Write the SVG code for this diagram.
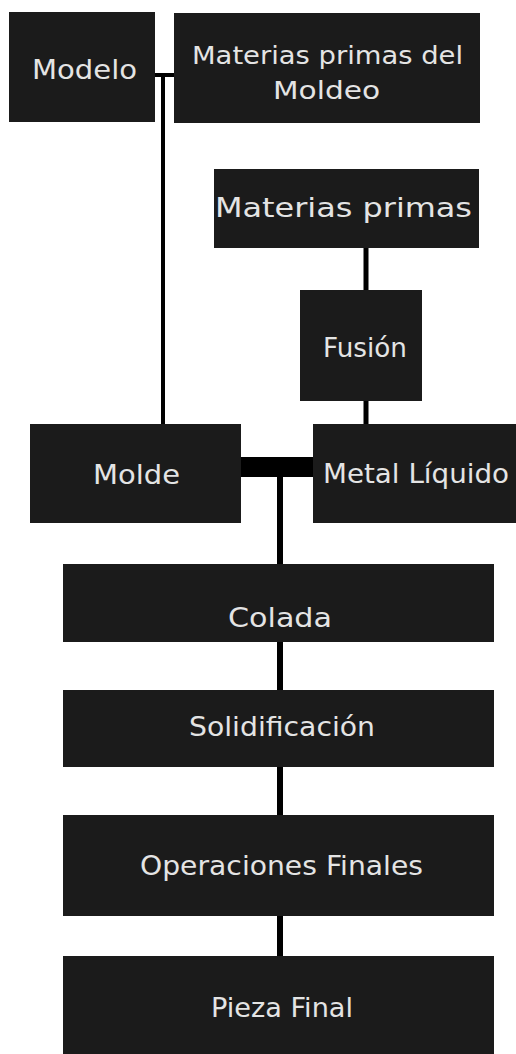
<svg xmlns="http://www.w3.org/2000/svg" width="516" height="1054" viewBox="0 0 516 1054">
  <style>
    .box { fill: #1b1b1b; }
    .lbl { fill: #e4e4e4; font-family: "DejaVu Sans", "Liberation Sans", sans-serif; font-size: 27px; }
    .sm { font-size: 24px; }
    .md { font-size: 26px; }
    .wire { fill: #000; }
  </style>
  <rect width="516" height="1054" fill="#fff"/>

  <!-- connectors -->
  <g id="connectors">
    <rect class="wire" x="155" y="73" width="19" height="4"/>
    <rect class="wire" x="161" y="73" width="4" height="351"/>
    <rect class="wire" x="363.5" y="248" width="5" height="42"/>
    <rect class="wire" x="363.5" y="401" width="5" height="23"/>
    <rect class="wire" x="241" y="457" width="72" height="20"/>
    <rect class="wire" x="277" y="477" width="6" height="87"/>
    <rect class="wire" x="277" y="642" width="6" height="48"/>
    <rect class="wire" x="277" y="767" width="6" height="48"/>
    <rect class="wire" x="277" y="916" width="6" height="40"/>
  </g>

  <g id="modelo">
    <rect class="box" x="9" y="12" width="146" height="110"/>
    <text class="lbl" x="32" y="79" textLength="105" lengthAdjust="spacingAndGlyphs">Modelo</text>
  </g>
  <g id="materias-moldeo">
    <rect class="box" x="174" y="13" width="306" height="110"/>
    <text class="lbl sm" x="192" y="64" textLength="271" lengthAdjust="spacingAndGlyphs">Materias primas del</text>
    <text class="lbl sm" x="273" y="99" textLength="107" lengthAdjust="spacingAndGlyphs">Moldeo</text>
  </g>
  <g id="materias-primas">
    <rect class="box" x="214" y="169" width="265" height="79"/>
    <text class="lbl md" x="215" y="217" textLength="257" lengthAdjust="spacingAndGlyphs">Materias primas</text>
  </g>
  <g id="fusion">
    <rect class="box" x="300" y="290" width="122" height="111"/>
    <text class="lbl" x="323" y="357" textLength="84" lengthAdjust="spacingAndGlyphs">Fusión</text>
  </g>
  <g id="molde">
    <rect class="box" x="30" y="424" width="211" height="99"/>
    <text class="lbl" x="93" y="484" textLength="87" lengthAdjust="spacingAndGlyphs">Molde</text>
  </g>
  <g id="metal-liquido">
    <rect class="box" x="313" y="424" width="203" height="99"/>
    <text class="lbl" x="323" y="483" textLength="186" lengthAdjust="spacingAndGlyphs">Metal Líquido</text>
  </g>
  <g id="colada">
    <rect class="box" x="63" y="564" width="431" height="78"/>
    <text class="lbl" x="228" y="627" textLength="104" lengthAdjust="spacingAndGlyphs">Colada</text>
  </g>
  <g id="solidificacion">
    <rect class="box" x="63" y="690" width="431" height="77"/>
    <text class="lbl" x="189" y="736" textLength="186" lengthAdjust="spacingAndGlyphs">Solidificación</text>
  </g>
  <g id="operaciones-finales">
    <rect class="box" x="63" y="815" width="431" height="101"/>
    <text class="lbl" x="140" y="875" textLength="283" lengthAdjust="spacingAndGlyphs">Operaciones Finales</text>
  </g>
  <g id="pieza-final">
    <rect class="box" x="63" y="956" width="431" height="98"/>
    <text class="lbl" x="211" y="1017" textLength="142" lengthAdjust="spacingAndGlyphs">Pieza Final</text>
  </g>
</svg>
